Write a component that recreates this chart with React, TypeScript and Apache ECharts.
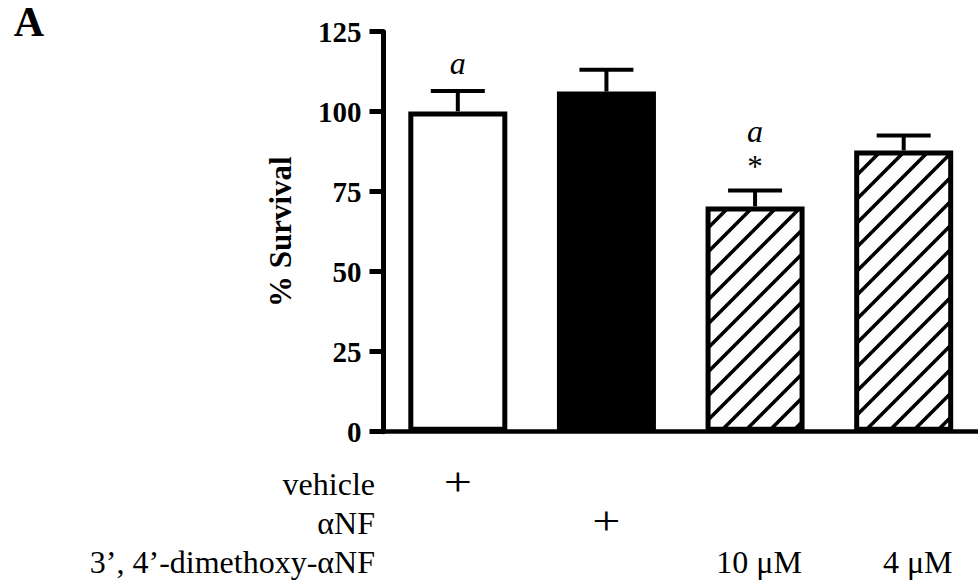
import React, { useEffect, useRef } from 'react';
import * as echarts from 'echarts';

// ---- data ----
const categories = ['vehicle', 'αNF', '10 μM', '4 μM'];
const survivalMean = [100.1, 106.3, 70.4, 87.9];
const survivalSem = [6.4, 6.8, 5.0, 4.7];
const letterMarks = ['a', '', 'a', ''];
const starMarks = ['', '', '*', ''];
const yMin = 0;
const yMax = 125;
const yInterval = 25;
const rowLabels = ['vehicle', 'αNF', '3’, 4’-dimethoxy-αNF'];
const rowMarks = [
  ['+', '', '', ''],
  ['', '+', '', ''],
  ['', '', '10 μM', '4 μM'],
];
const panelLabel = 'A';
const yAxisName = '% Survival';

const SERIF = "'Liberation Serif', serif";

function makeHatch() {
  const s = 24;
  const c = document.createElement('canvas');
  c.width = s;
  c.height = s;
  const ctx = c.getContext('2d')!;
  ctx.fillStyle = '#ffffff';
  ctx.fillRect(0, 0, s, s);
  ctx.strokeStyle = '#000000';
  ctx.lineWidth = 3.6;
  ctx.lineCap = 'square';
  ctx.beginPath();
  ctx.moveTo(-2, s + 2);
  ctx.lineTo(s + 2, -2);
  ctx.moveTo(-2, 2);
  ctx.lineTo(2, -2);
  ctx.moveTo(s - 2, s + 2);
  ctx.lineTo(s + 2, s - 2);
  ctx.stroke();
  return { image: c, repeat: 'repeat', imageWidth: s, imageHeight: s } as any;
}

export default function App() {
  const ref = useRef<HTMLDivElement>(null);
  useEffect(() => {
    document.body.style.margin = '0';
    const chart = echarts.init(ref.current!, null, { renderer: 'svg' });
    const hatch = makeHatch();
    const fills = ['#ffffff', '#000000', hatch, hatch];

    chart.setOption({
      animation: false,
      backgroundColor: '#ffffff',
      grid: { left: 383.5, top: 31.7, width: 600, height: 400, containLabel: false },
      xAxis: {
        type: 'category',
        data: categories,
        boundaryGap: true,
        axisLine: { show: true, lineStyle: { color: '#000', width: 4.5 } },
        axisTick: { show: false },
        axisLabel: { show: false },
        splitLine: { show: false },
      },
      yAxis: {
        type: 'value',
        min: yMin,
        max: yMax,
        interval: yInterval,
        name: yAxisName,
        nameLocation: 'middle',
        nameGap: 88,
        nameTextStyle: { fontFamily: SERIF, fontWeight: 'bold', fontSize: 31, color: '#000' },
        axisLine: { show: true, lineStyle: { color: '#000', width: 5 } },
        axisTick: { show: true, inside: false, length: 14, lineStyle: { color: '#000', width: 5 } },
        axisLabel: { fontFamily: SERIF, fontWeight: 'bold', fontSize: 29, color: '#000', margin: 22 },
        splitLine: { show: false },
      },
      series: [
        {
          type: 'bar',
          barWidth: 99,
          data: survivalMean.map((v, i) => ({
            value: v,
            itemStyle: { color: fills[i], borderColor: '#000', borderWidth: 5 },
          })),
          z: 2,
        },
        {
          type: 'custom',
          z: 5,
          data: categories.map((c, i) => [i, survivalMean[i], survivalMean[i] + survivalSem[i]]),
          renderItem: (params: any, api: any) => {
            const idx = params.dataIndex;
            const base = api.coord([api.value(0), api.value(1)]);
            const top = api.coord([api.value(0), api.value(2)]);
            const cx = base[0];
            const children: any[] = [
              { type: 'line', shape: { x1: cx, y1: base[1], x2: cx, y2: top[1] }, style: { stroke: '#000', lineWidth: 4 } },
              { type: 'line', shape: { x1: cx - 27, y1: top[1], x2: cx + 27, y2: top[1] }, style: { stroke: '#000', lineWidth: 4 } },
            ];
            let off = 28;
            if (starMarks[idx]) {
              children.push({
                type: 'text',
                x: cx,
                y: top[1] - off + 4,
                style: { text: starMarks[idx], fontFamily: SERIF, fontSize: 31, fill: '#000', align: 'center', verticalAlign: 'middle' },
              });
              off += 31;
            }
            if (letterMarks[idx]) {
              children.push({
                type: 'text',
                x: cx,
                y: top[1] - off,
                style: { text: letterMarks[idx], fontFamily: SERIF, fontStyle: 'italic', fontSize: 32, fill: '#000', align: 'center', verticalAlign: 'middle' },
              });
            }
            return { type: 'group', children };
          },
        },
      ],
    });

    const rowY = [484, 523, 562];
    const graphics: any[] = [
      {
        type: 'text',
        x: 29,
        y: 1,
        style: { text: panelLabel, fontFamily: SERIF, fontWeight: 'bold', fontSize: 42, fill: '#000', align: 'center', verticalAlign: 'top' },
      },
    ];
    rowLabels.forEach((lab, r) => {
      graphics.push({
        type: 'text',
        x: 375,
        y: rowY[r],
        style: { text: lab, fontFamily: SERIF, fontSize: 32, fill: '#000', align: 'right', verticalAlign: 'middle' },
      });
      rowMarks[r].forEach((m, i) => {
        if (!m) return;
        const px = chart.convertToPixel({ xAxisIndex: 0 }, i) as number;
        const isPlus = m === '+';
        graphics.push({
          type: 'text',
          x: px + (isPlus ? 0 : i === 3 ? 14 : 4),
          y: rowY[r] - (isPlus ? 2 : 0),
          scaleX: isPlus ? 1.25 : 1,
          style: {
            text: m,
            fontFamily: SERIF,
            fontSize: isPlus ? 40 : 32,
            fill: '#000',
            align: 'center',
            verticalAlign: 'middle',
          },
        });
      });
    });
    chart.setOption({ graphic: graphics });

    return () => chart.dispose();
  }, []);
  return <div ref={ref} style={{ position: 'absolute', left: 0, top: 0, width: 978, height: 587 }} />;
}
